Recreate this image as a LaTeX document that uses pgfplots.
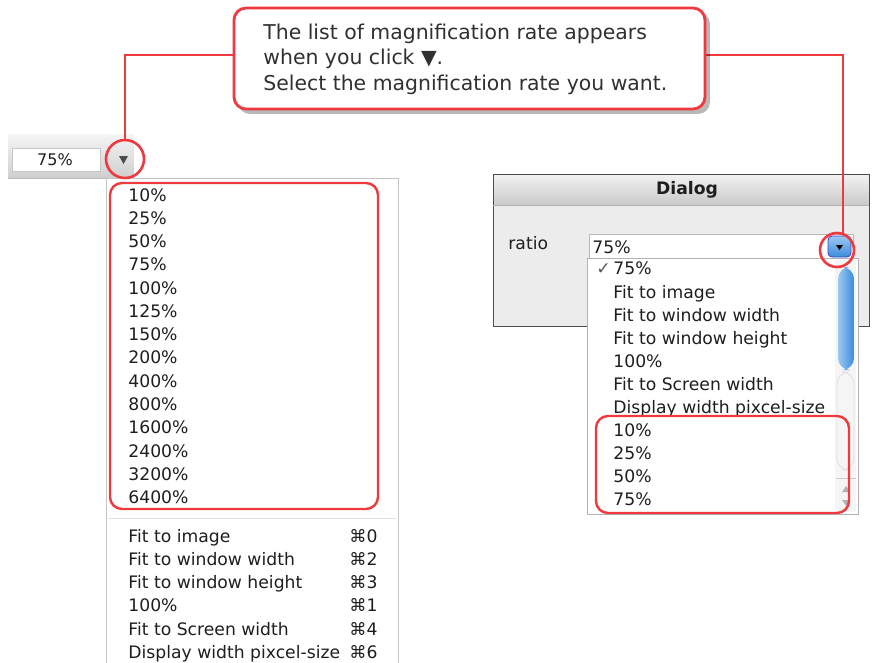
\documentclass[border=0pt]{standalone}
\usepackage{pgfplots}
\pgfplotsset{compat=1.18}
\usepackage{fontspec}
\setmainfont{DejaVu Sans}
\definecolor{cred}{HTML}{EE3A3E}
\definecolor{menuborder}{HTML}{C4C4C4}
\definecolor{winbg}{HTML}{ECECEC}
\definecolor{txt}{HTML}{1E1E1E}
\definecolor{calltxt}{HTML}{303030}
\definecolor{thumbA}{HTML}{9CC8F0}
\definecolor{thumbB}{HTML}{3C8CDC}
\begin{document}
\begin{tikzpicture}
\begin{axis}[scale only axis, width=436pt, height=331.5pt,
  xmin=0, xmax=872, ymin=0, ymax=663, y dir=reverse, hide axis, clip=false]
% ---------- left toolbar ----------
\shade[top color=gray!8, bottom color=gray!38] (8,134) rectangle (134,178);
\draw[gray!55] (8,178) -- (134,178);
\draw[gray!45, fill=white] (12,148) rectangle (100,171);
\node[font=\fontsize{8}{9}\selectfont, text=txt] at (55,160) {75\%};
\fill[gray!60!black] (119,156) -- (128,156) -- (123.5,164) -- cycle;
% ---------- left menu ----------
\draw[menuborder, fill=white] (106,178) rectangle (398,680);
\begin{scope}[every node/.style={anchor=west, font=\fontsize{8.6}{10}\selectfont, text=txt, inner sep=0pt, text height=1.55ex, text depth=0.3ex}]
\node at (128,195) {10\%};
\node at (128,218) {25\%};
\node at (128,241) {50\%};
\node at (128,264) {75\%};
\node at (128,288) {100\%};
\node at (128,311) {125\%};
\node at (128,334) {150\%};
\node at (128,357) {200\%};
\node at (128,381) {400\%};
\node at (128,404) {800\%};
\node at (128,427) {1600\%};
\node at (128,451) {2400\%};
\node at (128,474) {3200\%};
\node at (128,497) {6400\%};
\node at (128,536) {Fit to image};
\node at (128,559) {Fit to window width};
\node at (128,582) {Fit to window height};
\node at (128,605) {100\%};
\node at (128,629) {Fit to Screen width};
\node at (128,652) {Display width pixcel-size};
\node at (349,536) {⌘0};
\node at (349,559) {⌘2};
\node at (349,582) {⌘3};
\node at (349,605) {⌘1};
\node at (349,629) {⌘4};
\node at (349,652) {⌘6};
\end{scope}
\draw[gray!25] (108,518) -- (396,518);
\draw[cred, line width=1.2pt, rounded corners=6pt] (110,183) rectangle (378,509);
% ---------- dialog ----------
\draw[gray!60!black, fill=winbg] (493,174) rectangle (869,326);
\shade[top color=gray!10, bottom color=gray!42] (493,174) rectangle (869,205);
\draw[gray!60!black] (493,174) rectangle (869,326);
\draw[gray!60] (493,205) -- (869,205);
\node[font=\fontsize{8.6}{10}\selectfont\bfseries, text=txt] at (687,190) {Dialog};
\node[anchor=west, inner sep=0pt, text height=1.55ex, text depth=0.3ex, font=\fontsize{8.6}{10}\selectfont, text=txt] at (508,243) {ratio};
\draw[gray!55, fill=white] (589,234) rectangle (853,258);
\node[anchor=west, inner sep=0pt, text height=1.55ex, text depth=0.3ex, font=\fontsize{8.6}{10}\selectfont, text=txt] at (592,247) {75\%};
\shade[top color=thumbA, bottom color=thumbB, rounded corners=2pt] (828,236) rectangle (851,257);
\draw[gray!50!blue, rounded corners=2pt] (828,236) rectangle (851,257);
\fill[black] (836,245) -- (843,245) -- (839.5,250) -- cycle;
% dropdown list
\draw[gray!60, fill=white] (587,258) rectangle (858,514);
\fill[gray!8] (835,260) rectangle (856,512);
\draw[gray!25, rounded corners=6pt] (837,372) rectangle (854,470);
\shade[left color=thumbA, right color=thumbB, rounded corners=6pt] (838,267) rectangle (854,370);
\draw[gray!40] (836,478) -- (856,478);
\fill[gray!60] (842,492) -- (850,492) -- (846,486) -- cycle;
\fill[gray!60] (842,500) -- (850,500) -- (846,506) -- cycle;
\begin{scope}[every node/.style={anchor=west, font=\fontsize{8.6}{10}\selectfont, text=txt, inner sep=0pt, text height=1.55ex, text depth=0.3ex}]
\node[text=gray!70!black] at (596,268) {✓};
\node at (613,268) {75\%};
\node at (613,292) {Fit to image};
\node at (613,315) {Fit to window width};
\node at (613,338) {Fit to window height};
\node at (613,361) {100\%};
\node at (613,384) {Fit to Screen width};
\node at (613,407) {Display width pixcel-size};
\node at (613,430) {10\%};
\node at (613,453) {25\%};
\node at (613,476) {50\%};
\node at (613,499) {75\%};
\end{scope}
\draw[cred, line width=1.2pt, rounded corners=6pt] (596,416) rectangle (849,513);
% ---------- callout and connectors ----------
\draw[cred, line width=1pt] (234,55) -- (125,55) -- (125,140);
\draw[cred, line width=1pt] (705,55) -- (843,55) -- (843,233);
\draw[cred, line width=1.3pt] (125,159) circle[radius=19];
\draw[cred, line width=1.3pt] (837,250) circle[radius=17];
\fill[black, opacity=0.28, rounded corners=6pt] (238,12) rectangle (710,114);
\draw[cred, line width=1.4pt, fill=white, rounded corners=6pt] (234,8) rectangle (705,109);
\begin{scope}[every node/.style={anchor=west, font=\fontsize{10.2}{12}\selectfont, text=calltxt, inner sep=0pt, text height=1.55ex, text depth=0.3ex}]
\node at (263,33) {The list of magnification rate appears};
\node at (263,58) {when you click ▼.};
\node at (263,84) {Select the magnification rate you want.};
\end{scope}
\end{axis}
\pgfresetboundingbox
\path (current axis.south west) rectangle (current axis.north east);
\end{tikzpicture}
\end{document}
